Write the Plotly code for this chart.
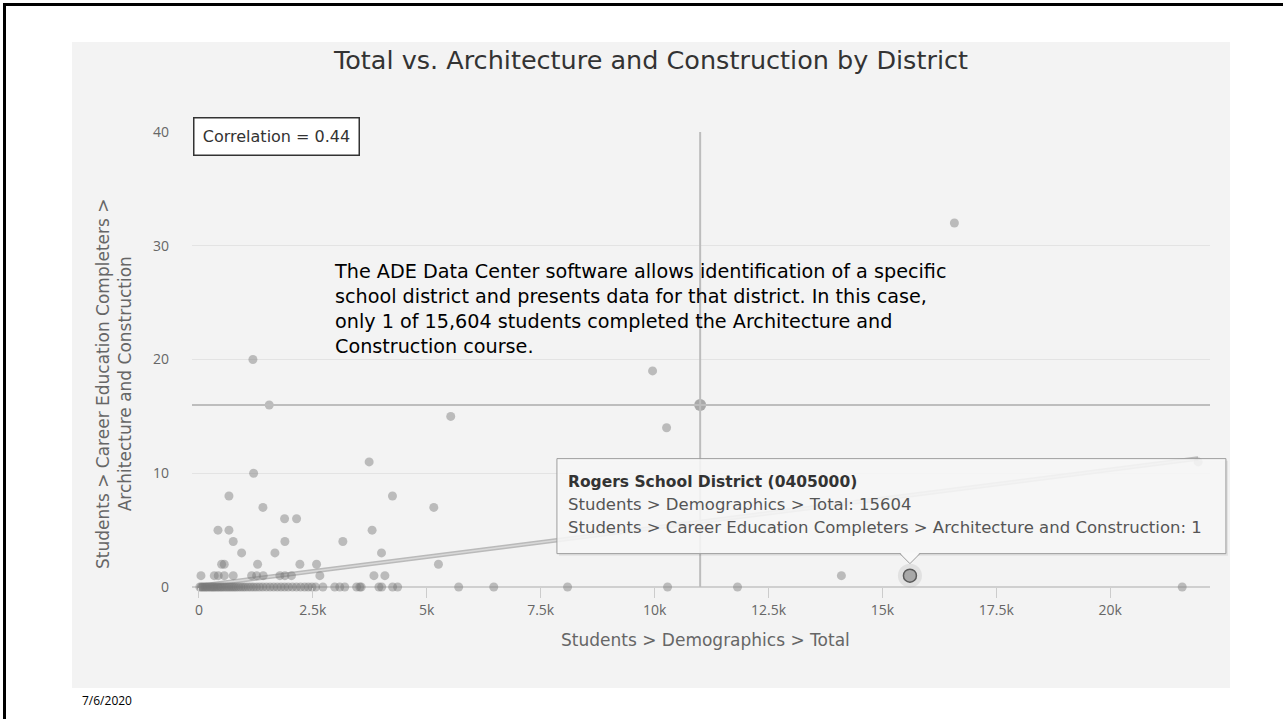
import plotly.graph_objects as go

# ---------------- data ----------------
district_totals = [
    # Architecture & Construction = 0
    20, 50, 80, 110, 140, 170, 200, 240, 270, 300, 330, 360, 400, 430, 470, 500,
    540, 580, 620, 660, 700, 740, 780, 820, 870, 920, 970, 1020, 1080, 1140, 1200,
    1260, 1330, 1400, 1480, 1560, 1640, 1720, 1800, 1880, 1960, 2050, 2140, 2230,
    2320, 2400, 2480, 2560, 2720, 2980, 3090, 3200, 3460, 3530, 3560, 3950, 4010,
    4250, 4360, 5700, 6470, 8090, 10285, 11820, 21580,
    # = 1
    44, 336, 423, 555, 752, 1155, 1265, 1410, 1776, 1886, 2030, 2653, 3840, 4080, 14100,
    # = 2
    497, 555, 1287, 2215, 2581, 5256,
    # = 3
    936, 1667, 4006,
    # = 4
    752, 1886, 3158,
    # = 5
    417, 658, 3800,
    # = 6
    1879, 2142,
    # = 7
    1404, 5154,
    # = 8
    658, 4247,
    # higher values
    1199, 3735, 21930, 10263, 5526, 1542, 9956, 1184, 16580,
]
arch_completers = (
    [0] * 65
    + [1] * 15
    + [2] * 6
    + [3] * 3
    + [4] * 3
    + [5] * 3
    + [6] * 2
    + [7] * 2
    + [8] * 2
    + [10, 11, 11, 14, 15, 16, 19, 20, 32]
)

rogers_name = "Rogers School District (0405000)"
rogers_total = 15604
rogers_arch = 1

cross_total = 11000
cross_arch = 16

trend_x = [0, 21930]
trend_y = [0.1, 11.3]

x_tick_vals = [0, 2500, 5000, 7500, 10000, 12500, 15000, 17500, 20000]
x_tick_text = ["0", "2.5k", "5k", "7.5k", "10k", "12.5k", "15k", "17.5k", "20k"]
y_tick_vals = [0, 10, 20, 30, 40]

correlation = 0.44

# ---------------- layout geometry ----------------
W, H = 1283, 719
PL, PR, PT, PB = 192, 1210, 132, 587
X_RANGE = [-153, 22190]
Y_RANGE = [0, 40]


def fx(px):
    return (px - PL) / (PR - PL)


def fy(py):
    return (PB - py) / (PB - PT)


CHART_FONT = "DejaVu Sans"
TICK_FONT = "Open Sans"
SLIDE_FONT = "DejaVu Sans"

fig = go.Figure()

# trend line
fig.add_trace(go.Scatter(x=trend_x, y=trend_y, mode="lines",
                         line=dict(color="rgba(175,175,175,0.85)", width=4.5),
                         hoverinfo="skip", showlegend=False))
fig.add_trace(go.Scatter(x=trend_x, y=trend_y, mode="lines",
                         line=dict(color="rgba(220,220,220,0.9)", width=1.5),
                         hoverinfo="skip", showlegend=False))

# districts
fig.add_trace(go.Scatter(x=district_totals, y=arch_completers, mode="markers",
                         marker=dict(size=9, color="rgba(120,120,120,0.45)", line=dict(width=0)),
                         cliponaxis=False, showlegend=False))

# crosshair point
fig.add_trace(go.Scatter(x=[cross_total], y=[cross_arch], mode="markers",
                         marker=dict(size=12, color="rgba(150,150,150,0.8)", line=dict(width=0)),
                         cliponaxis=False, showlegend=False))

# hovered point (Rogers)
fig.add_trace(go.Scatter(x=[rogers_total], y=[rogers_arch], mode="markers",
                         marker=dict(size=24, color="rgba(170,170,170,0.25)", line=dict(width=0)),
                         cliponaxis=False, showlegend=False))
fig.add_trace(go.Scatter(x=[rogers_total], y=[rogers_arch], mode="markers",
                         marker=dict(size=13, color="#a8a8a8", line=dict(width=1.5, color="#5a5a5a")),
                         cliponaxis=False, showlegend=False))

shapes = []
# panel background
shapes.append(dict(type="rect", xref="paper", yref="paper", layer="below",
                   x0=fx(72), x1=fx(1230), y0=fy(688), y1=fy(42),
                   fillcolor="#f3f3f3", line=dict(width=0)))
# slide frame
shapes.append(dict(type="rect", xref="paper", yref="paper", layer="above",
                   x0=fx(3), x1=fx(1284), y0=fy(6), y1=fy(3),
                   fillcolor="#000", line=dict(width=0)))
shapes.append(dict(type="rect", xref="paper", yref="paper", layer="above",
                   x0=fx(3), x1=fx(6), y0=fy(720), y1=fy(3),
                   fillcolor="#000", line=dict(width=0)))
# crosshair lines
shapes.append(dict(type="line", xref="x", yref="paper", x0=cross_total, x1=cross_total,
                   y0=0, y1=1, line=dict(color="#bdbdbd", width=2), layer="above"))
shapes.append(dict(type="line", xref="paper", yref="y", x0=0, x1=1,
                   y0=cross_arch, y1=cross_arch, line=dict(color="#bdbdbd", width=2), layer="above"))

# tooltip: pixel offsets anchored on the hovered point (paper refs so it is not clipped)
rog_px = (rogers_total - X_RANGE[0]) / (X_RANGE[1] - X_RANGE[0])
rog_py = (rogers_arch - Y_RANGE[0]) / (Y_RANGE[1] - Y_RANGE[0])
tip = dict(xref="paper", yref="paper", xsizemode="pixel", ysizemode="pixel",
           xanchor=rog_px, yanchor=rog_py, layer="above")
shapes.append(dict(type="rect", x0=-351, x1=318, y0=20, y1=115,
                   fillcolor="rgba(0,0,0,0.07)", line=dict(width=0), **tip))
shapes.append(dict(type="rect", x0=-353, x1=316, y0=22, y1=117,
                   fillcolor="rgba(248,248,248,0.88)", line=dict(color="#9c9c9c", width=1), **tip))
shapes.append(dict(type="path", path="M -10,23.2 L 0,12 L 10,23.2 Z",
                   fillcolor="rgba(248,248,248,1)", line=dict(width=0), **tip))
shapes.append(dict(type="path", path="M -10,22 L 0,12 L 10,22",
                   fillcolor="rgba(0,0,0,0)", line=dict(color="#9c9c9c", width=1), **tip))

annotations = []
# title
annotations.append(dict(text="Total vs. Architecture and Construction by District",
                        xref="paper", yref="paper", x=fx(650), y=fy(60),
                        xanchor="center", yanchor="middle", showarrow=False,
                        font=dict(family=CHART_FONT, size=25.5, color="#333333")))
# correlation box
annotations.append(dict(text=f"Correlation = {correlation}",
                        xref="paper", yref="paper", x=fx(193), y=fy(117),
                        xanchor="left", yanchor="top", showarrow=False,
                        width=160, height=32, borderpad=2,
                        bgcolor="#ffffff", bordercolor="#333333", borderwidth=1.5,
                        font=dict(family=CHART_FONT, size=16, color="#333333")))
# axis titles
annotations.append(dict(text="Students > Career Education Completers ><br>Architecture and Construction",
                        xref="paper", yref="paper", x=fx(114), y=fy(384),
                        xanchor="center", yanchor="middle", textangle=-90, showarrow=False,
                        font=dict(family=CHART_FONT, size=17, color="#666666")))
annotations.append(dict(text="Students > Demographics > Total",
                        xref="paper", yref="paper", x=fx(705), y=fy(640),
                        xanchor="center", yanchor="middle", showarrow=False,
                        font=dict(family=CHART_FONT, size=17, color="#666666")))
# tooltip text
tip_lines = [
    (f"<b>{rogers_name}</b>", 94, "#333333", 15.5),
    (f"Students > Demographics > Total: {rogers_total}", 71, "#555555", 16.5),
    (f"Students > Career Education Completers > Architecture and Construction: {rogers_arch}", 48, "#555555", 16.5),
]
for txt, ys, col, sz in tip_lines:
    annotations.append(dict(text=txt, xref="x", yref="y", x=rogers_total, y=rogers_arch,
                            xshift=-344, yshift=ys, xanchor="left", yanchor="middle",
                            showarrow=False, font=dict(family=CHART_FONT, size=sz, color=col)))
# slide commentary (one block, wrapped as on the slide)
slide_lines = [
    "The ADE Data Center software allows identification of a specific",
    "school district and presents data for that district. In this case,",
    "only 1 of 15,604 students completed the Architecture and",
    "Construction course.",
]
annotations.append(dict(text="<br>".join(slide_lines), xref="paper", yref="paper",
                        x=fx(332), y=fy(258), xanchor="left", yanchor="top", align="left",
                        showarrow=False,
                        font=dict(family=SLIDE_FONT, size=19.2, color="#000000")))
annotations.append(dict(text="7/6/2020", xref="paper", yref="paper", x=fx(80), y=fy(700),
                        xanchor="left", yanchor="middle", showarrow=False,
                        font=dict(family="Open Sans", size=12, color="#000000")))

fig.update_layout(
    width=W, height=H,
    margin=dict(l=PL, r=W - PR, t=PT, b=H - PB),
    paper_bgcolor="#ffffff",
    plot_bgcolor="rgba(0,0,0,0)",
    shapes=shapes,
    annotations=annotations,
    showlegend=False,
    font=dict(family=CHART_FONT, color="#666666"),
)
fig.update_xaxes(range=X_RANGE, tickvals=x_tick_vals, ticktext=x_tick_text,
                 showgrid=False, zeroline=False, showline=False,
                 ticks="outside", ticklen=10, tickcolor="#cccccc", tickwidth=1,
                 tickfont=dict(family=TICK_FONT, size=14, color="#666666"))
fig.update_yaxes(range=Y_RANGE, tickvals=y_tick_vals,
                 showgrid=True, gridcolor="#e3e3e3", gridwidth=1,
                 zeroline=True, zerolinecolor="#cfcfcf", zerolinewidth=1.5, showline=False,
                 ticks="", ticklabelstandoff=22,
                 tickfont=dict(family=TICK_FONT, size=14, color="#666666"))

fig.write_html(
    "out.html",
    config={"displayModeBar": False},
    post_script="document.body.style.margin='0';document.body.style.padding='0';"
                "document.body.style.overflow='hidden';",
)
